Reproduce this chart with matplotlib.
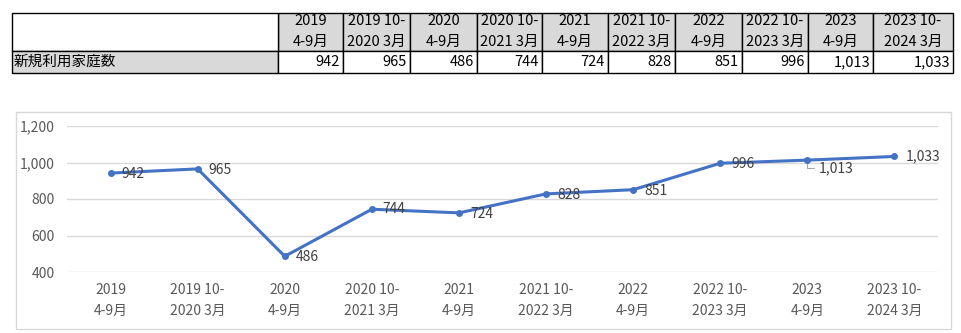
import numpy as np
import matplotlib.pyplot as plt
from matplotlib.patches import Rectangle

plt.rcParams["font.family"] = ["Noto Sans CJK JP", "DejaVu Sans"]

# --------------------------------------------------------------
# Data
# --------------------------------------------------------------
row_label = "新規利用家庭数"
period_top = ["2019", "2019 10-", "2020", "2020 10-", "2021",
              "2021 10-", "2022", "2022 10-", "2023", "2023 10-"]
period_bottom = ["4-9月", "2020 3月", "4-9月", "2021 3月", "4-9月",
                 "2022 3月", "4-9月", "2023 3月", "4-9月", "2024 3月"]
new_families = [942, 965, 486, 744, 724, 828, 851, 996, 1013, 1033]

y_ticks = [400, 600, 800, 1000, 1200]

# label offsets (pixels right, pixels down) for each point
label_dx = [11, 11, 11, 11, 11, 11, 11, 11, 11, 11]
label_dy = [1, 1, 1, 0, 1, 1, 1, 1, 8, 0]

W, H = 962, 333
fig = plt.figure(figsize=(W / 100, H / 100), dpi=100)

# full-figure axes in pixel coordinates for the table and chart frame
frame = fig.add_axes([0, 0, 1, 1])
frame.set_xlim(0, W)
frame.set_ylim(H, 0)
frame.axis("off")

# --------------------------------------------------------------
# Table
# --------------------------------------------------------------
col_edges = [12, 278, 343, 410, 477, 542, 608, 675, 742, 808, 873, 953]
top, mid, bottom = 13, 51, 73
gray = "#d9d9d9"
table_fs = 10.5

# header cells
for i in range(len(period_top)):
    x0, x1 = col_edges[i + 1], col_edges[i + 2]
    frame.add_patch(Rectangle((x0, top), x1 - x0, mid - top, facecolor=gray,
                              edgecolor="black", lw=1))
    xc = (x0 + x1) / 2
    frame.text(xc, 21, period_top[i], ha="center", va="center", fontsize=table_fs)
    frame.text(xc, 42, period_bottom[i], ha="center", va="center", fontsize=table_fs)

# top-left empty cell
frame.add_patch(Rectangle((col_edges[0], top), col_edges[1] - col_edges[0], mid - top,
                          facecolor="white", edgecolor="black", lw=1))

# data row
frame.add_patch(Rectangle((col_edges[0], mid), col_edges[1] - col_edges[0], bottom - mid,
                          facecolor=gray, edgecolor="black", lw=1))
frame.text(col_edges[0] + 2, 62, row_label, ha="left", va="center", fontsize=table_fs)
for i, v in enumerate(new_families):
    x0, x1 = col_edges[i + 1], col_edges[i + 2]
    frame.add_patch(Rectangle((x0, mid), x1 - x0, bottom - mid, facecolor="white",
                              edgecolor="black", lw=1))
    frame.text(x1 - 3, 62, f"{v:,}", ha="right", va="center", fontsize=table_fs)

# chart border
frame.add_patch(Rectangle((16, 112), 951 - 16, 329 - 112, facecolor="none",
                          edgecolor=gray, lw=1))

# --------------------------------------------------------------
# Line chart
# --------------------------------------------------------------
left, right = 67, 938
y_top, y_bot = 126, 272
ax = fig.add_axes([left / W, (H - y_bot) / H, (right - left) / W, (y_bot - y_top) / H])
ax.set_facecolor("none")

x = np.arange(len(new_families))
ax.plot(x, new_families, color="#4472c4", lw=2.2, marker="o", markersize=4,
        solid_capstyle="round", zorder=3)

for i, v in enumerate(new_families):
    if i == 8:
        ax.annotate(f"{v:,}", (x[i], v), xytext=(label_dx[i] * 0.72, -label_dy[i] * 0.72),
                    textcoords="offset points", ha="left", va="center",
                    fontsize=10, color="#404040",
                    arrowprops=dict(arrowstyle="-", color="#a6a6a6", lw=0.8,
                                    connectionstyle="angle,angleA=0,angleB=90,rad=0",
                                    shrinkA=1, shrinkB=3))
    else:
        ax.annotate(f"{v:,}", (x[i], v), xytext=(label_dx[i] * 0.72, -label_dy[i] * 0.72),
                    textcoords="offset points", ha="left", va="center",
                    fontsize=10, color="#404040")

ax.set_xlim(-0.5, len(new_families) - 0.5)
ax.set_ylim(y_ticks[0], y_ticks[-1])
ax.set_yticks(y_ticks)
ax.set_yticklabels([f"{t:,}" for t in y_ticks])
ax.set_xticks(x)
ax.set_xticklabels([f"{a}\n{b}" for a, b in zip(period_top, period_bottom)],
                   linespacing=1.6)

ax.grid(axis="y", color=gray, lw=1)
ax.set_axisbelow(True)
for s in ax.spines.values():
    s.set_visible(False)
ax.tick_params(axis="both", length=0, labelsize=10, colors="#595959")
ax.tick_params(axis="y", pad=9)
ax.tick_params(axis="x", pad=8)

fig.savefig("out.png", dpi=100)
